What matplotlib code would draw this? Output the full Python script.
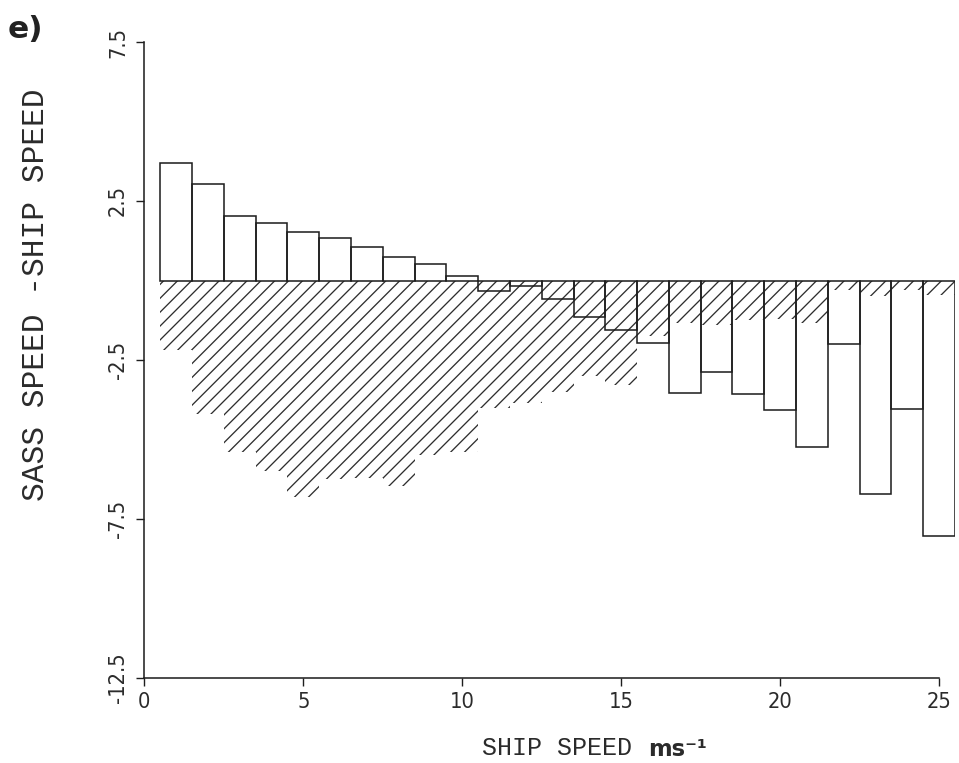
import matplotlib

matplotlib.use("Agg")

import matplotlib.pyplot as plt

DPI = 125
FIGSIZE = (959 / DPI, 763 / DPI)

TEXT_COLOR = "#2b2b2b"
LINE_COLOR = "#1e1e1e"
PLOT_FONT = ["Liberation Mono", "DejaVu Sans Mono"]

# ship speed classes (m/s), one bar per class
SHIP_SPEED = list(range(1, 26))

# mean SASS - ship speed difference (open bars)
MEAN_DIFF = [3.68, 3.05, 2.02, 1.81, 1.52, 1.33, 1.04, 0.73, 0.51, 0.14,
             -0.32, -0.17, -0.57, -1.16, -1.57, -1.96, -3.55, -2.89, -3.58, -4.08,
             -5.24, -2.01, -6.71, -4.03, -8.05]

# second statistic shown as hatched bars
HATCH_DIFF = [-2.2, -4.2, -5.4, -6.0, -6.8, -6.25, -6.2, -6.45, -5.5, -5.4,
              -4.0, -3.85, -3.5, -3.0, -3.3, -1.75, -1.35, -1.4, -1.25, -1.2,
              -1.35, -0.3, -0.5, -0.3, -0.45]

X_TICKS = [0, 5, 10, 15, 20, 25]
Y_TICKS = [-12.5, -7.5, -2.5, 2.5, 7.5]

plt.rcParams["hatch.linewidth"] = 0.75

fig = plt.figure(figsize=FIGSIZE, dpi=DPI)
ax = fig.add_axes([144.4 / 959, 85 / 763, 810.6 / 959, 636 / 763])

ax.bar(SHIP_SPEED, HATCH_DIFF, width=1.0, facecolor="none", edgecolor="#2e2e2e",
       linewidth=0, hatch="///", zorder=1)
ax.bar(SHIP_SPEED, MEAN_DIFF, width=1.0, fill=False, edgecolor=LINE_COLOR,
       linewidth=0.9, zorder=2)

ax.set_xlim(0, 25.5)
ax.set_ylim(-12.5, 7.5)

for side in ("top", "right"):
    ax.spines[side].set_visible(False)
for side in ("left", "bottom"):
    ax.spines[side].set_color(LINE_COLOR)
    ax.spines[side].set_linewidth(0.9)
ax.spines["bottom"].set_bounds(0, 25)

ax.set_xticks(X_TICKS)
ax.set_xticklabels([str(v) for v in X_TICKS], family="DejaVu Sans", stretch="condensed",
                   fontweight="light", fontsize=12.5, color=TEXT_COLOR)
ax.set_yticks(Y_TICKS)
ax.set_yticklabels([f"{v:g}" for v in Y_TICKS], family="DejaVu Sans", stretch="condensed",
                   fontweight="light", fontsize=12.5, color=TEXT_COLOR,
                   rotation=90, va="center")
ax.tick_params(axis="both", direction="out", length=4.5, width=0.8, color=LINE_COLOR)
ax.tick_params(axis="x", pad=3.5)
ax.tick_params(axis="y", pad=5)

fig.text(36 / 959, 1 - 295 / 763, "SASS SPEED -SHIP SPEED", rotation=90,
         ha="center", va="center", family=PLOT_FONT, fontsize=18, color=TEXT_COLOR)
fig.text(632 / 959, 1 - 748 / 763, "SHIP SPEED", ha="right", va="center",
         family=PLOT_FONT, fontsize=14.4, color=TEXT_COLOR)
fig.text(648 / 959, 1 - 750 / 763, "ms\u207b\u00b9", ha="left", va="center",
         family="DejaVu Sans", fontweight="bold", fontsize=13, color=TEXT_COLOR)
fig.text(8 / 959, 1 - 30 / 763, "e)", ha="left", va="center",
         family="DejaVu Sans", fontweight="bold", fontsize=18, color="#222222")

fig.savefig("out.png", dpi=DPI, facecolor="white")
